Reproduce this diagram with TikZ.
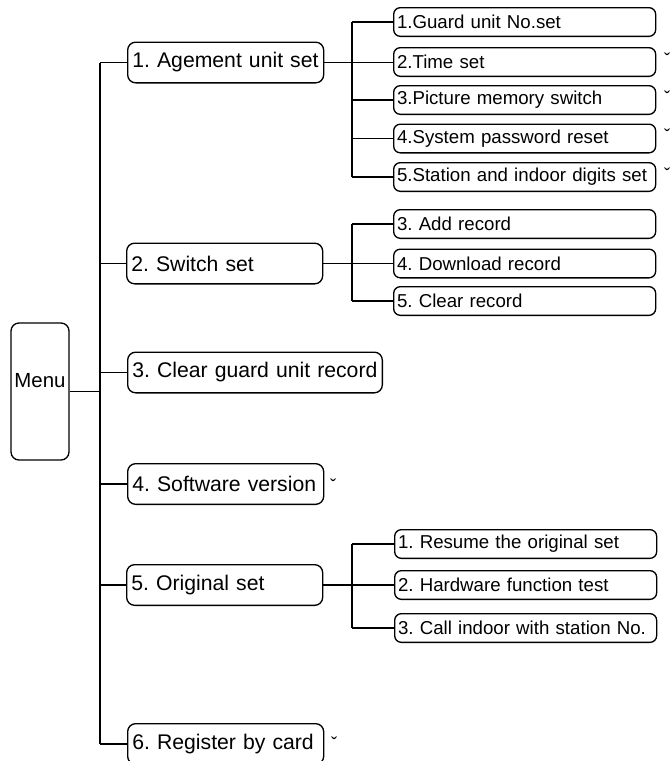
\documentclass[tikz,border=0pt]{standalone}
\usepackage{fontspec}
\setmainfont{Liberation Sans}
\usetikzlibrary{positioning}
\tikzset{font=\fontsize{14}{16}\selectfont}
\tikzset{
  topbox/.style={draw, line width=1pt, rounded corners=6pt, anchor=west,
    inner xsep=3.5pt, inner ysep=0pt, text width=#1, align=left,
    minimum height=30.5pt, font=\fontsize{15.9}{18}\selectfont},
  subbox/.style={draw, line width=1pt, rounded corners=5pt, anchor=west,
    inner xsep=2.5pt, inner ysep=0pt, text width=#1, align=left,
    minimum height=21.5pt, font=\fontsize{14}{16}\selectfont},
  link/.style={line width=0.8pt},
  tick/.style={anchor=base, inner sep=0pt, font=\fontsize{14}{16}\selectfont}
}
\frenchspacing

\begin{document}
\begin{tikzpicture}[x=0.75pt,y=-0.75pt]
  \useasboundingbox (0,0) rectangle (671,761);
  \clip (0,0) rectangle (671,761);

  % root
  \node[draw, line width=1pt, rounded corners=6pt, minimum width=43.5pt,
        minimum height=102.75pt, inner sep=0pt, text height=11pt, text depth=17pt,
        font=\fontsize{15.3}{18}\selectfont] (menu) at (40,391.5) {Menu};
  \coordinate (tr) at (100,0);
  \coordinate (ta) at (352,0);
  \coordinate (tb) at (352,0);
  \coordinate (tc) at (352,0);

  % first level
  \node[topbox=140pt] (set1) at (127,62.5) {1. Agement unit set};
  \node[topbox=140pt] (set2) at (126,263.5) {2. Switch set};
  \node[topbox=184pt] (set3) at (127,372.5) {3. Clear guard unit record};
  \node[topbox=140pt] (set4) at (127,484) {4. Software version};
  \node[topbox=140pt] (set5) at (126,585) {5. Original set};
  \node[topbox=140pt] (set6) at (127,744) {6. Register by card};

  % second level
  \node[subbox=191.5pt] (a1) at (393,22) {1.Guard unit No.set};
  \node[subbox=191.5pt] (a2) at (393,62) {2.Time set};
  \node[subbox=191.5pt] (a3) at (393,100) {3.Picture memory switch};
  \node[subbox=191.5pt] (a4) at (393,138.5) {4.System password reset};
  \node[subbox=191.5pt] (a5) at (393,177) {5.Station and indoor digits set};

  \node[subbox=191.5pt] (b1) at (393,224) {3. Add record};
  \node[subbox=191.5pt] (b2) at (393,263.5) {4. Download record};
  \node[subbox=191.5pt] (b3) at (393,301) {5. Clear record};

  \node[subbox=191.5pt] (c1) at (394,544) {1. Resume the original set};
  \node[subbox=191.5pt] (c2) at (394,585) {2. Hardware function test};
  \node[subbox=191.5pt] (c3) at (394,628) {3. Call indoor with station No.};

  % connectors
  \draw[link] (menu.east) -- (menu.east -| tr);
  \draw[link] (set1.west -| tr) -- (set6.west -| tr);
  \foreach \n in {1,...,6}
    \draw[link] (set\n.west -| tr) -- (set\n.west);

  \draw[link] (set1.east) -- (set1.east -| a2.west);
  \draw[link] (a1.west -| ta) -- (a5.west -| ta);
  \foreach \n in {1,3,4,5}
    \draw[link] (a\n.west -| ta) -- (a\n.west);

  \draw[link] (set2.east) -- (set2.east -| b2.west);
  \draw[link] (b1.west -| tb) -- (b3.west -| tb);
  \foreach \n in {1,3}
    \draw[link] (b\n.west -| tb) -- (b\n.west);

  \draw[link] (set5.east) -- (set5.east -| c2.west);
  \draw[link] (c1.west -| tc) -- (c3.west -| tc);
  \foreach \n in {1,3}
    \draw[link] (c\n.west -| tc) -- (c\n.west);

  % marks
  \foreach \n in {2,...,5}
    \node[tick] (tk\n) at ([xshift=8.25pt,yshift=-3.2pt]a\n.east) {ˇ};
  \node[tick] (tkf) at ([xshift=6.75pt,yshift=-6pt]set4.east) {ˇ};
  \node[tick] (tkg) at ([xshift=7.5pt,yshift=-4.7pt]set6.east) {ˇ};
\end{tikzpicture}
\end{document}
